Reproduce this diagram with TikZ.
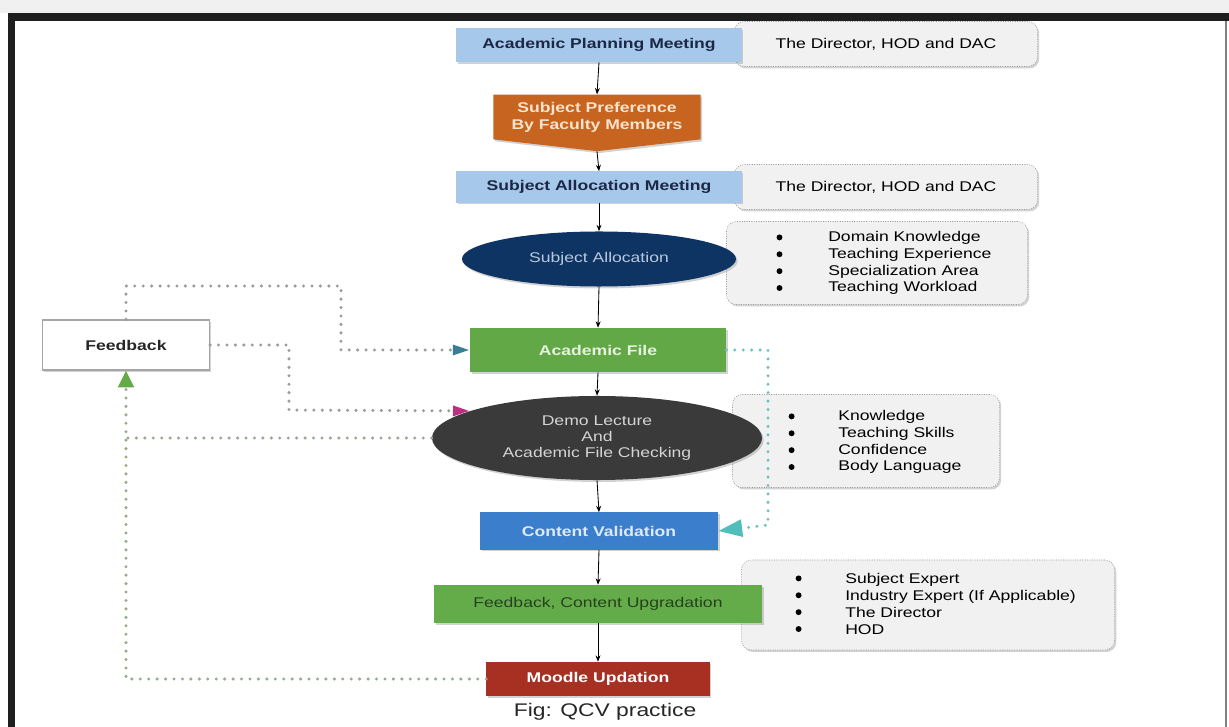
\documentclass[tikz,border=0pt]{standalone}
\usepackage{fontspec}
\setmainfont{Liberation Sans}[FakeStretch=1.25]
\usetikzlibrary{shapes,arrows.meta,shadows,calc}
\definecolor{band}{RGB}{240,240,240}
\definecolor{meeting}{RGB}{166,200,234}
\definecolor{meetingtext}{RGB}{28,40,70}
\definecolor{prefer}{RGB}{198,100,32}
\definecolor{prefertext}{RGB}{250,228,205}
\definecolor{navy}{RGB}{14,52,100}
\definecolor{navytext}{RGB}{185,200,220}
\definecolor{leaf}{RGB}{98,168,70}
\definecolor{leaftext}{RGB}{230,242,222}
\definecolor{charcoal}{RGB}{58,58,58}
\definecolor{charcoaltext}{RGB}{212,212,212}
\definecolor{valid}{RGB}{58,126,204}
\definecolor{validtext}{RGB}{222,234,248}
\definecolor{upgrade}{RGB}{100,172,74}
\definecolor{upgradetext}{RGB}{38,66,28}
\definecolor{moodle}{RGB}{168,48,34}
\definecolor{notefill}{RGB}{241,241,241}
\definecolor{dotgray}{RGB}{155,155,155}
\definecolor{dotgreen}{RGB}{150,172,140}
\definecolor{dotaqua}{RGB}{110,195,200}
\definecolor{tipslate}{RGB}{60,125,150}
\definecolor{tipmagenta}{RGB}{185,50,130}
\definecolor{tipgreen}{RGB}{100,170,70}
\definecolor{tipaqua}{RGB}{80,190,185}

\begin{document}
\begin{tikzpicture}[
    x=0.025cm, y=-0.025cm,
    softshadow/.style={drop shadow={shadow xshift=1.2pt, shadow yshift=-1.4pt, opacity=0.35}},
    stage/.style={rectangle, text centered, font=\bfseries\fontsize{10}{11.5}\selectfont, softshadow},
    oval/.style={ellipse, align=center, font=\fontsize{10}{11.5}\selectfont, softshadow},
    note/.style={rectangle, rounded corners=7pt, fill=notefill, draw=gray!80, dash pattern=on 0.7pt off 1pt, font=\fontsize{10}{11.5}\selectfont, softshadow},
    items/.style={anchor=west, inner sep=0pt, align=left, font=\fontsize{10}{12}\selectfont},
    flow/.style={-{Stealth[length=4.5pt,width=3.5pt]}, line width=0.6pt},
    back/.style={draw=dotgray, line width=2.4pt, line cap=round, dash pattern=on 0pt off 6pt}
]
    \useasboundingbox (0,0) rectangle (1229,727);
    \fill[white] (0,0) rectangle (1229,727);
    % frame
    \fill[band] (0,0) rectangle (1229,13);
    \fill[black!88] (8,13) rectangle (1229,21);
    \fill[black!88] (8,13) rectangle (15,727);
    \draw[gray, line width=0.8pt] (1226,21) -- (1226,727);

    % side notes (behind the stages)
    \node[note, minimum width=7.575cm, minimum height=1.125cm] (who1) at (886,44) {The Director, HOD and DAC};
    \node[note, minimum width=7.575cm, minimum height=1.125cm] (who2) at (886,187) {The Director, HOD and DAC};
    \node[note, minimum width=7.525cm, minimum height=2.075cm] (crit1) at (877,263) {};
    \node[note, minimum width=6.675cm, minimum height=2.325cm] (crit2) at (866,441) {};
    \node[note, minimum width=9.325cm, minimum height=2.25cm] (crit3) at (928,605) {};
    \node[items] (list1) at (828,263) {Domain Knowledge\\Teaching Experience\\Specialization Area\\Teaching Workload};
    \node[items] (list2) at (838,442) {Knowledge\\Teaching Skills\\Confidence\\Body Language};
    \node[items] (list3) at (845,604) {Subject Expert\\Industry Expert (If Applicable)\\The Director\\HOD};
    % bullets
    \foreach \r in {18.2,6.2,-5.8,-17.8} {
        \fill ([xshift=-34.5pt, yshift=\r pt]list1.west) circle (2.1pt);
        \fill ([xshift=-33pt, yshift=\r pt]list2.west) circle (2.1pt);
        \fill ([xshift=-33pt, yshift=\r pt]list3.west) circle (2.1pt);
    }

    % main column
    \node[stage, fill=meeting, text=meetingtext, minimum width=7.125cm, minimum height=0.85cm] (apm) at (599,45) {Academic Planning Meeting};
    \node[signal, signal to=south, signal pointer angle=167, fill=prefer, text=prefertext, align=center, font=\bfseries\fontsize{10}{12}\selectfont, minimum width=5.175cm, minimum height=1.375cm, softshadow] (pref) at (597,117) {Subject Preference\\By Faculty Members};
    \node[stage, fill=meeting, text=meetingtext, minimum width=7.125cm, minimum height=0.775cm] (sam) at (599,187) {Subject Allocation Meeting};
    \node[oval, fill=navy, text=navytext, minimum width=6.85cm, minimum height=1.375cm] (alloc) at (599,259) {Subject Allocation};
    \node[stage, fill=leaf, text=leaftext, minimum width=6.4cm, minimum height=1.1cm] (afile) at (598,350) {Academic File};
    \node[oval, fill=charcoal, text=charcoaltext, minimum width=8.25cm, minimum height=2.1cm] (demo) at (597,438) {Demo Lecture\\And\\Academic File Checking};
    \node[stage, fill=valid, text=validtext, minimum width=5.95cm, minimum height=0.925cm] (valid) at (599,531) {Content Validation};
    \node[stage, fill=upgrade, text=upgradetext, font=\fontsize{10}{11.5}\selectfont, minimum width=8.2cm, minimum height=0.95cm] (upgrade) at (598,604) {Feedback, Content Upgradation};
    \node[stage, fill=moodle, text=white, minimum width=5.575cm, minimum height=0.85cm] (moodle) at (598,679) {Moodle Updation};
    \node[font=\fontsize{13}{14}\selectfont, text=black!85] (caption) at (605,712) {Fig: QCV practice};

    \node[stage, fill=white, draw=gray!70, line width=0.8pt, text=black!85, minimum width=4.175cm, minimum height=1.25cm] (fb) at (126,345) {Feedback};

    % forward flow
    \draw[flow] (apm.south) -- (pref.north);
    \draw[flow] (pref.south) -- (sam.north);
    \draw[flow] (sam.south) -- (alloc.north);
    \draw[flow] (alloc.south) -- (afile.north);
    \draw[flow] (afile.south) -- (demo.north);
    \draw[flow] (demo.south) -- (valid.north);
    \draw[flow] (valid.south) -- (upgrade.north);
    \draw[flow] (upgrade.south) -- (moodle.north);

    % feedback loops
    \draw[back, -{Triangle[length=12pt,width=7pt,color=tipslate]}] (fb.north) |- (341,286) |- (afile.west);
    \draw[back, -{Triangle[length=12pt,width=7pt,color=tipmagenta]}] (fb.east) -| (289,410) -- (demo.168);
    \draw[back, draw=dotgreen, -{Triangle[length=12pt,width=11pt,color=tipgreen]}] (moodle.west) -| (fb.south);
    \draw[back, draw=dotgreen] (demo.west) -- (demo.west -| fb.south);
    \draw[back, draw=dotaqua, -{Triangle[length=17pt,width=12pt,color=tipaqua]}] (afile.east) -| (768,525) -- (valid.east);
\end{tikzpicture}
\end{document}
